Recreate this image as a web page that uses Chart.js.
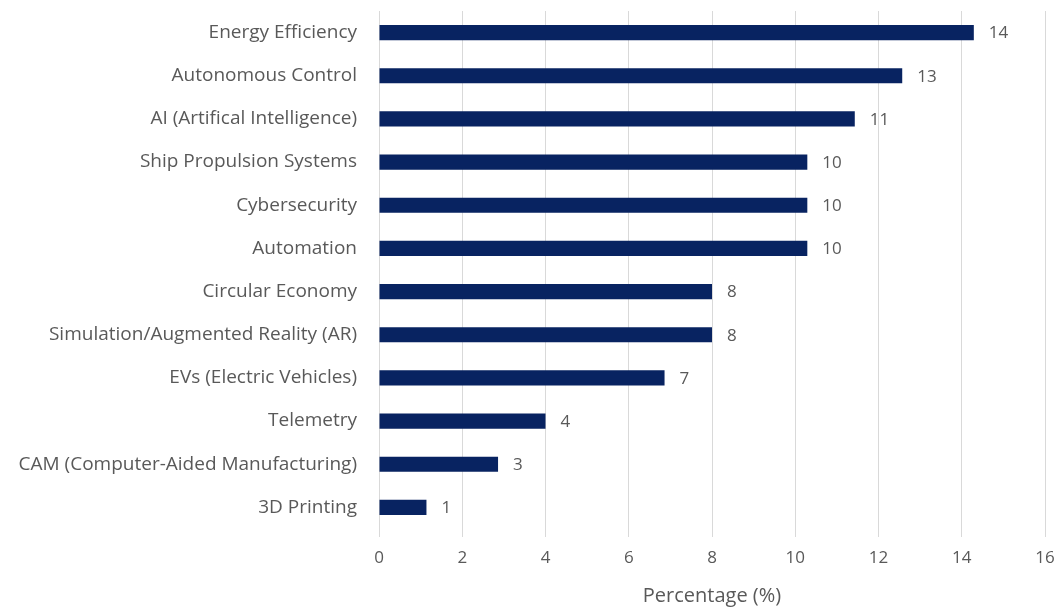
<!DOCTYPE html>
<html>
<head>
<meta charset="utf-8">
<script src="https://cdn.jsdelivr.net/npm/chart.js@4.4.1/dist/chart.umd.min.js"></script>
<style>
  html, body { margin: 0; padding: 0; background: #fff; }
  #wrap { width: 1058px; height: 608px; }
</style>
</head>
<body>
<div id="wrap"><canvas id="myChart" width="1058" height="608"></canvas></div>
<script>
// topics and share of mentions (%)
const topics = [
  "Energy Efficiency",
  "Autonomous Control",
  "AI (Artifical Intelligence)",
  "Ship Propulsion Systems",
  "Cybersecurity",
  "Automation",
  "Circular Economy",
  "Simulation/Augmented Reality (AR)",
  "EVs (Electric Vehicles)",
  "Telemetry",
  "CAM (Computer-Aided Manufacturing)",
  "3D Printing"
];
const shares = [14.29, 12.57, 11.43, 10.29, 10.29, 10.29, 8.0, 8.0, 6.86, 4.0, 2.86, 1.14];
const xTicks = [0, 2, 4, 6, 8, 10, 12, 14, 16];

const fontFamily = "'Open Sans', sans-serif";
const textColor = "#595959";

// draws the rounded value just past the end of each bar
const valueLabels = {
  id: "valueLabels",
  afterDatasetsDraw(chart) {
    const ctx = chart.ctx;
    const meta = chart.getDatasetMeta(0);
    ctx.save();
    ctx.font = "17px " + fontFamily;
    ctx.fillStyle = textColor;
    ctx.textAlign = "left";
    ctx.textBaseline = "middle";
    meta.data.forEach((bar, i) => {
      ctx.fillText(String(Math.round(shares[i])), bar.x + 15, bar.y + 1);
    });
    ctx.restore();
  }
};

new Chart(document.getElementById("myChart"), {
  type: "bar",
  data: {
    labels: topics,
    datasets: [{
      data: shares,
      backgroundColor: "#082361",
      barPercentage: 0.35,
      categoryPercentage: 1.0
    }]
  },
  plugins: [valueLabels],
  options: {
    indexAxis: "y",
    responsive: false,
    animation: false,
    layout: { padding: { top: 11, right: 13, left: 0, bottom: 0 } },
    plugins: {
      legend: { display: false },
      tooltip: { enabled: false }
    },
    scales: {
      x: {
        min: 0,
        max: 16,
        afterBuildTicks: (axis) => { axis.ticks = xTicks.map(v => ({ value: v })); },
        afterFit: (axis) => {
          axis.height = 79;
          axis.paddingLeft = 0;
          axis.paddingRight = 0;
        },
        grid: { color: "#d9d9d9", lineWidth: 1, tickLength: 8 },
        border: { display: false },
        ticks: {
          padding: 11,
          color: textColor,
          font: { family: fontFamily, size: 17 }
        },
        title: {
          display: true,
          text: "Percentage (%)",
          color: textColor,
          padding: { top: 0, bottom: 0 },
          font: { family: fontFamily, size: 20 }
        }
      },
      y: {
        afterFit: (axis) => {
          axis.width = 379;
          axis.paddingTop = 0;
          axis.paddingBottom = 0;
        },
        grid: { display: false },
        border: { display: false },
        ticks: {
          padding: 14,
          color: textColor,
          font: { family: fontFamily, size: 19 }
        }
      }
    }
  }
});
</script>
</body>
</html>
